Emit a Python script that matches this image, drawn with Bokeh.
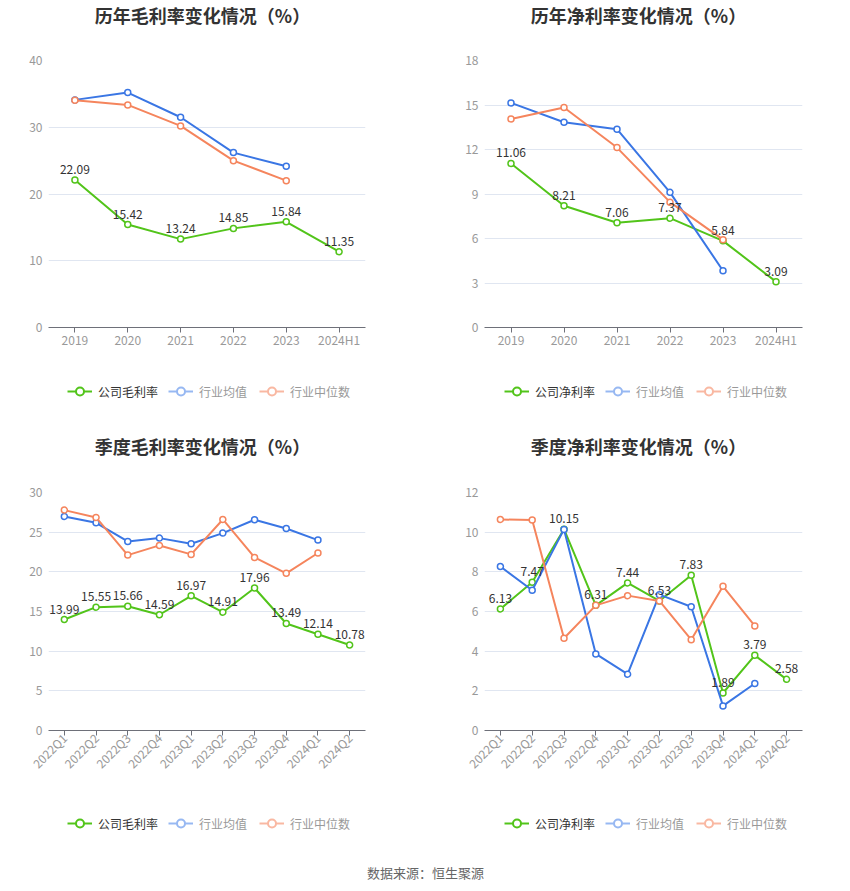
import math
from bokeh.plotting import figure
from bokeh.models import FactorRange, Range1d, FixedTicker, Label, Legend, LegendItem
from bokeh.layouts import column, row
from bokeh.embed import file_html
from bokeh.resources import INLINE
from bokeh.core.properties import value

# ---------------- data ----------------
years = ["2019", "2020", "2021", "2022", "2023", "2024H1"]
quarters = ["2022Q1", "2022Q2", "2022Q3", "2022Q4", "2023Q1", "2023Q2",
            "2023Q3", "2023Q4", "2024Q1", "2024Q2"]

gross_company = [22.09, 15.42, 13.24, 14.85, 15.84, 11.35]
gross_mean = [34.1, 35.2, 31.5, 26.2, 24.15]
gross_median = [34.05, 33.35, 30.2, 25.0, 22.0]

net_company = [11.06, 8.21, 7.06, 7.37, 5.84, 3.09]
net_mean = [15.14, 13.84, 13.37, 9.11, 3.83]
net_median = [14.06, 14.83, 12.13, 8.45, 5.92]

q_gross_company = [13.99, 15.55, 15.66, 14.59, 16.97, 14.91, 17.96, 13.49, 12.14, 10.78]
q_gross_mean = [26.98, 26.18, 23.83, 24.25, 23.54, 24.88, 26.56, 25.47, 24.0]
q_gross_median = [27.78, 26.86, 22.11, 23.33, 22.2, 26.6, 21.82, 19.81, 22.37]

q_net_company = [6.13, 7.47, 10.15, 6.31, 7.44, 6.53, 7.83, 1.89, 3.79, 2.58]
q_net_mean = [8.27, 7.07, 10.14, 3.86, 2.84, 6.85, 6.24, 1.24, 2.37]
q_net_median = [10.64, 10.61, 4.65, 6.31, 6.8, 6.53, 4.58, 7.27, 5.27]

titles = ["历年毛利率变化情况（%）", "历年净利率变化情况（%）",
          "季度毛利率变化情况（%）", "季度净利率变化情况（%）"]
company_labels = ["公司毛利率", "公司净利率", "公司毛利率", "公司净利率"]
industry_labels = ["行业均值", "行业中位数"]
source_text = "数据来源：恒生聚源"

FONT = "Noto Sans CJK SC"
GREEN = "#52c41a"
BLUE = "#3a76e4"
ORANGE = "#f5855d"
BLUE_L = "#97b8f2"
ORANGE_L = "#f9b8a2"


def blank(width, height, bl=0, br=0):
    # frame borders equal to the chart below it, so the column aligns frames;
    # x data units equal pixels of the whole figure
    f = figure(width=width, height=height, x_range=Range1d(bl, width - br),
               y_range=Range1d(0, height), output_backend="svg",
               toolbar_location=None, x_axis_type=None, y_axis_type=None,
               min_border_left=bl, min_border_right=br,
               min_border_top=0, min_border_bottom=0)
    f.outline_line_color = None
    f.xgrid.visible = False
    f.ygrid.visible = False
    return f


def title_fig(width, height, bl, br, text, cx, cy_from_top):
    f = blank(width, height, bl, br)
    f.add_layout(Label(x=cx, y=height - cy_from_top, text=text, text_align="center",
                       text_baseline="middle", text_font=FONT, text_font_size="18px",
                       text_font_style="bold", text_color="#333333"))
    return f


def legend_fig(width, height, bl, br, comp_label, x1, x2, cy_from_top):
    f = blank(width, height, bl, br)

    def dummy(col):
        # data far outside the visible range: only the legend icon shows
        l = f.line(x=[-1000, -999], y=[-1000, -1000], line_color=col, line_width=2)
        s = f.scatter(x=[-1000], y=[-1000], size=11, fill_color="white",
                      line_color=col, line_width=2)
        return [l, s]

    bottom = height - cy_from_top - 10
    common = dict(orientation="horizontal", glyph_width=25, glyph_height=20,
                  label_height=20, label_width=10, label_text_font=FONT,
                  label_text_font_size="12px",
                  border_line_color=None, background_fill_alpha=0, padding=0,
                  margin=0, spacing=12, label_standoff=6,
                  label_text_baseline="middle")
    lg1 = Legend(items=[LegendItem(label=comp_label, renderers=dummy(GREEN))],
                 location=(x1 - bl, bottom), label_text_color="#333333", **common)
    lg2 = Legend(items=[LegendItem(label=industry_labels[0], renderers=dummy(BLUE_L)),
                        LegendItem(label=industry_labels[1], renderers=dummy(ORANGE_L))],
                 location=(x2 - bl, bottom), label_text_color="#999999", **common)
    f.add_layout(lg1)
    f.add_layout(lg2)
    return f


def main_fig(cats, company, mean, median, ymax, step, width, height, bl, br, bt, bb, rotate):
    p = figure(x_range=FactorRange(*cats), y_range=Range1d(0, ymax),
               width=width, height=height, output_backend="svg",
               toolbar_location=None, min_border_left=bl, min_border_right=br,
               min_border_top=bt, min_border_bottom=bb)
    p.outline_line_color = None
    p.xgrid.visible = False
    p.ygrid.grid_line_color = "#e0e6f1"
    p.ygrid.grid_line_width = 1
    p.yaxis.ticker = FixedTicker(ticks=list(range(0, ymax + 1, step)))
    p.yaxis.axis_line_color = None
    p.yaxis.major_tick_line_color = None
    p.yaxis.minor_tick_line_color = None
    p.yaxis.major_tick_out = 0
    p.yaxis.major_tick_in = 0
    p.yaxis.minor_tick_out = 0
    p.yaxis.major_label_standoff = 6
    p.yaxis.major_label_text_color = "#999999"
    p.yaxis.major_label_text_font = FONT
    p.yaxis.major_label_text_font_size = "12px"
    p.xaxis.axis_line_color = "#6e7079"
    p.xaxis.major_tick_line_color = "#6e7079"
    p.xaxis.major_tick_out = 5
    p.xaxis.major_tick_in = 0
    p.xaxis.major_label_standoff = 0 if rotate else -2
    p.xaxis.major_label_text_color = "#999999"
    p.xaxis.major_label_text_font = FONT
    p.xaxis.major_label_text_font_size = "12px"
    if rotate:
        p.xaxis.major_label_orientation = math.pi / 4

    for vals, col in ((company, GREEN), (mean, BLUE), (median, ORANGE)):
        xs = cats[:len(vals)]
        p.line(xs, vals, line_color=col, line_width=2)
        p.scatter(xs, vals, size=6, fill_color="white", line_color=col, line_width=1.5)

    p.text(x=cats[:len(company)], y=company, text=[f"{v:.2f}" for v in company],
           text_font=value(FONT), text_font_size="12px", text_color="#333333",
           text_align="center", text_baseline="bottom", y_offset=-6)
    return p


LW, RW = 425, 423
LBL, LBR = 48, 60
RBL, RBR = 59, 46

# top-left
t1 = title_fig(LW, 45, LBL, LBR, titles[0], 202, 14)
m1 = main_fig(years, gross_company, gross_mean, gross_median, 40, 10,
              LW, 325, LBL, LBR, 15, 43, False)
l1 = legend_fig(LW, 58, LBL, LBR, company_labels[0], 67, 168, 21)
# top-right
t2 = title_fig(RW, 45, RBL, RBR, titles[1], 213, 14)
m2 = main_fig(years, net_company, net_mean, net_median, 18, 3,
              RW, 325, RBL, RBR, 15, 43, False)
l2 = legend_fig(RW, 58, RBL, RBR, company_labels[1], 79, 180, 21)
# bottom-left
t3 = title_fig(LW, 47, LBL, LBR, titles[2], 202, 17)
m3 = main_fig(quarters, q_gross_company, q_gross_mean, q_gross_median, 30, 5,
              LW, 320, LBL, LBR, 17, 65, True)
l3 = legend_fig(LW, 53, LBL, LBR, company_labels[2], 67, 168, 28)
# bottom-right
t4 = title_fig(RW, 47, RBL, RBR, titles[3], 213, 17)
m4 = main_fig(quarters, q_net_company, q_net_mean, q_net_median, 12, 2,
              RW, 320, RBL, RBR, 17, 65, True)
l4 = legend_fig(RW, 53, RBL, RBR, company_labels[3], 79, 180, 28)

footer = blank(LW + RW, 40)
footer.add_layout(Label(x=425, y=16, text=source_text, text_align="center",
                        text_baseline="middle", text_font=FONT, text_font_size="13px",
                        text_color="#666666"))

layout = column(
    row(column(t1, m1, l1), column(t2, m2, l2)),
    row(column(t3, m3, l3), column(t4, m4, l4)),
    footer,
)
open("out.html", "w").write(file_html(layout, INLINE))
